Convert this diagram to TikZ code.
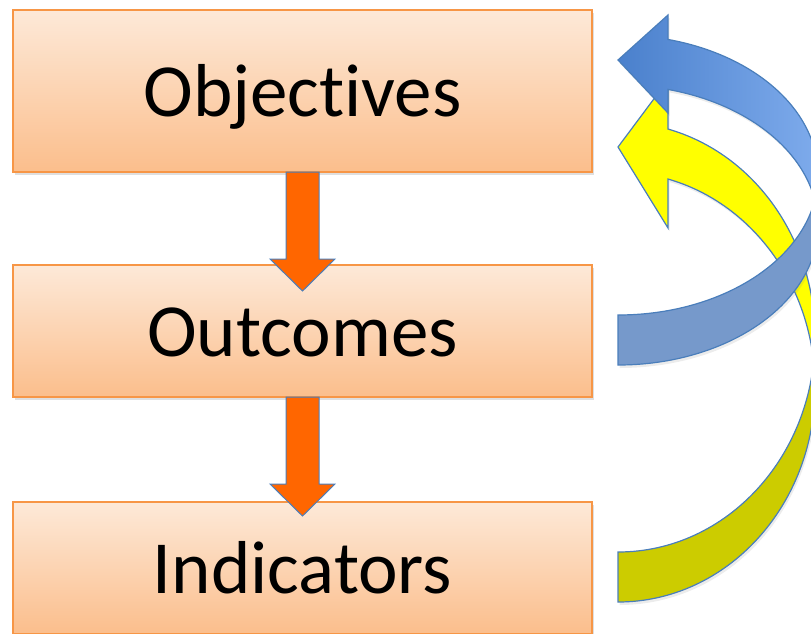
\documentclass[tikz,border=0pt]{standalone}
\usepackage{fontspec}
\setmainfont{Carlito}[RawFeature={-liga;-clig;-calt}]
\usetikzlibrary{positioning,shadows}
\definecolor{boxtop}{RGB}{253,233,216}
\definecolor{boxbottom}{RGB}{251,190,140}
\definecolor{boxline}{RGB}{247,150,70}
\definecolor{flowfill}{RGB}{255,102,0}
\definecolor{edgeblue}{RGB}{74,126,187}
\definecolor{ribbonblue}{RGB}{74,128,204}
\definecolor{ribbonlight}{RGB}{126,171,236}
\definecolor{ribbonback}{RGB}{118,153,203}
\definecolor{ribbonyellow}{RGB}{255,255,0}
\definecolor{ribbonolive}{RGB}{204,204,0}

\begin{document}
\begin{tikzpicture}[x=1pt, y=-1pt,
stage/.style ={ rectangle ,top color =boxtop , bottom color =boxbottom ,
draw=boxline , line width=1.5pt , minimum width =579pt , outer sep=0pt ,
text height=50pt , text depth=0pt , font=\fontsize{75}{90}\selectfont ,
drop shadow={shadow xshift=1.5pt, shadow yshift=-3pt, opacity=0.25}},
flow/.style ={draw=edgeblue , line width=1pt , fill=flowfill , line join=miter},
ribbon/.style ={draw=edgeblue , line width=1.2pt , line join=miter ,
drop shadow={shadow xshift=1.5pt, shadow yshift=-3pt, opacity=0.15}}]
\path[use as bounding box] (0,0) rectangle (811,633);
\clip (0,0) rectangle (811,633);

\node[stage, minimum height=162pt] (obj) at (302.5,91) {Objec\kern0pt tives};
\node[stage, minimum height=132pt, below=93pt of obj] (outc) {Outcomes};
\node[stage, minimum height=132pt, below=105pt of outc] (ind) {Indicators};

% down arrows between the stages
\draw[flow] ([xshift=-16.5pt]obj.south) -- ++(0,87) -- ++(-16,0) -- ++(32.5,32)
 -- ++(32.5,-32) -- ++(-16,0) -- ([xshift=16.5pt]obj.south) -- cycle;
\draw[flow] ([xshift=-16.5pt]outc.south) -- ++(0,87) -- ++(-16,0) -- ++(32.5,32)
 -- ++(32.5,-32) -- ++(-16,0) -- ([xshift=16.5pt]outc.south) -- cycle;

% yellow ribbon, indicators back to objectives
\draw[ribbon, fill=ribbonolive] (618,552)
 arc[start angle=90, end angle=0, x radius=197, y radius=215] -- ++(0,50)
 arc[start angle=0, end angle=90, x radius=197, y radius=215] -- cycle;
\draw[ribbon, fill=ribbonyellow] (668,129.04)
 arc[start angle=-75.3, end angle=0, x radius=197, y radius=215] -- ++(0,50)
 arc[start angle=0, end angle=-75.3, x radius=197, y radius=215]
 -- (668,228) -- (618,147) -- (668,80) -- cycle;

% blue ribbon, outcomes back to objectives
\draw[ribbon, fill=ribbonback] (618,315)
 arc[start angle=90, end angle=0, x radius=200, y radius=140] -- ++(0,50)
 arc[start angle=0, end angle=90, x radius=200, y radius=140] -- cycle;
\draw[ribbon, left color=ribbonblue, right color=ribbonlight] (668,39.45)
 arc[start angle=-75.52, end angle=0, x radius=200, y radius=140] -- ++(0,50)
 arc[start angle=0, end angle=-75.52, x radius=200, y radius=140]
 -- (668,113) -- (618,60) -- (668,15) -- cycle;
\end{tikzpicture}
\end{document}
